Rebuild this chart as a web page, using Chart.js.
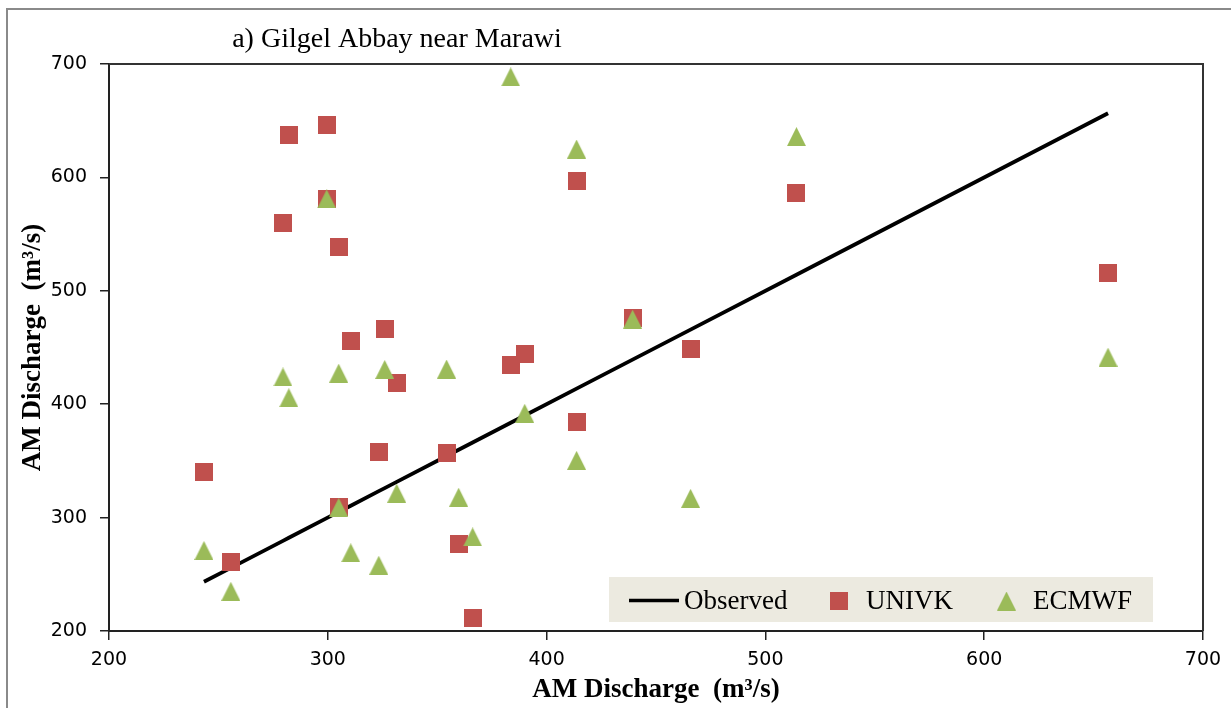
<!DOCTYPE html>
<html>
<head>
<meta charset="utf-8">
<script src="https://cdn.jsdelivr.net/npm/chart.js@4.4.1/dist/chart.umd.min.js"></script>
<style>
  html, body { margin: 0; padding: 0; background: #ffffff; }
  #wrap { width: 1231px; height: 708px; position: relative; }
</style>
</head>
<body>
<div id="wrap"><canvas id="chart" width="1231" height="708"></canvas></div>
<script>
// Annual maximum discharge (m³/s) at Gilgel Abbay near Marawi
const chartTitle = 'a) Gilgel Abbay near Marawi';
const axisTitle = 'AM Discharge  (m³/s)';
const seriesNames = ['Observed', 'UNIVK', 'ECMWF'];

// Observed annual maxima (sorted)
const observed = [243.4, 255.7, 279.5, 282.2, 299.5, 299.5, 305.0, 305.0, 310.5, 323.3, 326.0, 331.5,
                  354.3, 359.8, 366.2, 383.6, 390.0, 413.7, 413.7, 439.3, 465.8, 514.2, 656.6];
// Simulated annual maxima for the same years
const univk = [340.0, 260.7, 560.0, 637.5, 646.0, 581.0, 539.0, 309.0, 456.0, 357.6, 466.7, 419.0,
               357.0, 276.6, 211.4, 435.0, 444.0, 597.0, 384.0, 476.4, 449.0, 586.4, 516.0];
const ecmwf = [271.0, 235.0, 424.0, 405.7, null, 581.0, 427.4, 309.0, 269.0, 258.0, 430.6, 321.5,
               431.0, 318.0, 283.0, 688.6, 392.0, 625.0, 350.5, 475.0, 317.0, 636.0, 441.5];

const axisMin = 200, axisMax = 700, axisStep = 100;

const RED = '#C0504D';
const GREEN = '#9BBB59';

// Marker glyphs
function makeSquare(size, color) {
  const c = document.createElement('canvas');
  c.width = size; c.height = size;
  const g = c.getContext('2d');
  g.fillStyle = color;
  g.fillRect(0, 0, size, size);
  return c;
}
function makeTriangle(size, color) {
  const c = document.createElement('canvas');
  c.width = size; c.height = size;
  const g = c.getContext('2d');
  g.fillStyle = color;
  g.beginPath();
  g.moveTo(size / 2, 0);
  g.lineTo(size, size);
  g.lineTo(0, size);
  g.closePath();
  g.fill();
  return c;
}
const squareMark = makeSquare(18, RED);
const triangleMark = makeTriangle(19, GREEN);

const toPoints = (ys) => observed.map((x, i) => ({ x: x, y: ys[i] })).filter(p => p.y !== null);

// Page frame, chart title and the boxed legend
const decorations = {
  id: 'decorations',
  beforeDraw(chart) {
    const ctx = chart.ctx;
    ctx.save();
    ctx.strokeStyle = '#8a8a8a';
    ctx.lineWidth = 2;
    ctx.beginPath();
    ctx.moveTo(7, 708);
    ctx.lineTo(7, 9);
    ctx.lineTo(1231, 9);
    ctx.stroke();
    ctx.restore();
  },
  afterDatasetsDraw(chart) {
    const ctx = chart.ctx;
    const a = chart.chartArea;
    ctx.save();
    // top and right edges of the plot frame
    ctx.strokeStyle = '#333333';
    ctx.lineWidth = 2;
    ctx.beginPath();
    ctx.moveTo(a.left, a.top);
    ctx.lineTo(a.right, a.top);
    ctx.lineTo(a.right, a.bottom);
    ctx.stroke();

    // title
    ctx.fillStyle = '#000000';
    ctx.font = '28px "Liberation Serif", "Times New Roman", serif';
    ctx.textAlign = 'center';
    ctx.textBaseline = 'middle';
    ctx.fillText(chartTitle, 397, 40);

    // legend
    const bx = a.right - 594, by = a.bottom - 54, bw = 544, bh = 45;
    const cy = by + bh / 2 + 1;
    ctx.fillStyle = '#ECEAE0';
    ctx.fillRect(bx, by, bw, bh);
    ctx.font = '27px "Liberation Serif", "Times New Roman", serif';
    ctx.textAlign = 'left';
    ctx.textBaseline = 'middle';
    ctx.fillStyle = '#000000';

    ctx.strokeStyle = '#000000';
    ctx.lineWidth = 3.5;
    ctx.beginPath();
    ctx.moveTo(bx + 20, cy);
    ctx.lineTo(bx + 70, cy);
    ctx.stroke();
    ctx.fillText(seriesNames[0], bx + 75, cy + 1);

    ctx.drawImage(squareMark, bx + 230 - 9, cy - 9);
    ctx.fillText(seriesNames[1], bx + 257, cy + 1);

    ctx.drawImage(triangleMark, bx + 397 - 9, cy - 9);
    ctx.fillText(seriesNames[2], bx + 424, cy + 1);
    ctx.restore();
  }
};

const tickFont = { family: '"DejaVu Sans", Verdana, sans-serif', size: 19 };
const titleFont = { family: '"Liberation Serif", "Times New Roman", serif', size: 27, weight: 'bold', lineHeight: 1.2 };

function axis(extra) {
  return Object.assign({
    type: 'linear',
    min: axisMin,
    max: axisMax,
    ticks: { stepSize: axisStep, color: '#000000', font: tickFont },
    grid: { drawOnChartArea: false, drawTicks: true, tickLength: 9, color: '#222222', lineWidth: 1.5 },
    border: { display: true, color: '#222222', width: 2 }
  }, extra);
}

new Chart(document.getElementById('chart'), {
  type: 'scatter',
  data: {
    datasets: [
      {
        label: seriesNames[0],
        type: 'line',
        data: observed.map(v => ({ x: v, y: v })),
        borderColor: '#000000',
        borderWidth: 3.8,
        pointRadius: 0,
        fill: false,
        tension: 0,
        order: 3
      },
      {
        label: seriesNames[1],
        data: toPoints(univk),
        pointStyle: squareMark,
        pointRadius: 9,
        backgroundColor: RED,
        borderColor: RED,
        order: 2
      },
      {
        label: seriesNames[2],
        data: toPoints(ecmwf),
        pointStyle: triangleMark,
        pointRadius: 9,
        backgroundColor: GREEN,
        borderColor: GREEN,
        order: 1
      }
    ]
  },
  options: {
    responsive: false,
    animation: false,
    devicePixelRatio: 1,
    layout: { padding: { left: 0, top: 64, right: 28, bottom: 0 } },
    plugins: {
      legend: { display: false },
      title: { display: false },
      tooltip: { enabled: false }
    },
    scales: {
      x: axis({
        position: 'bottom',
        ticks: { stepSize: axisStep, color: '#000000', font: tickFont, padding: 9, maxRotation: 0 },
        title: { display: true, text: axisTitle, color: '#000000', font: titleFont, padding: { top: 0, bottom: 2 } },
        afterFit(scale) { scale.height = 77; }
      }),
      y: axis({
        position: 'left',
        ticks: { stepSize: axisStep, color: '#000000', font: tickFont, padding: 13 },
        title: { display: true, text: axisTitle, color: '#000000', font: titleFont, padding: { top: 17, bottom: 0 } },
        afterFit(scale) { scale.width = 109; }
      })
    }
  },
  plugins: [decorations]
});
</script>
</body>
</html>
